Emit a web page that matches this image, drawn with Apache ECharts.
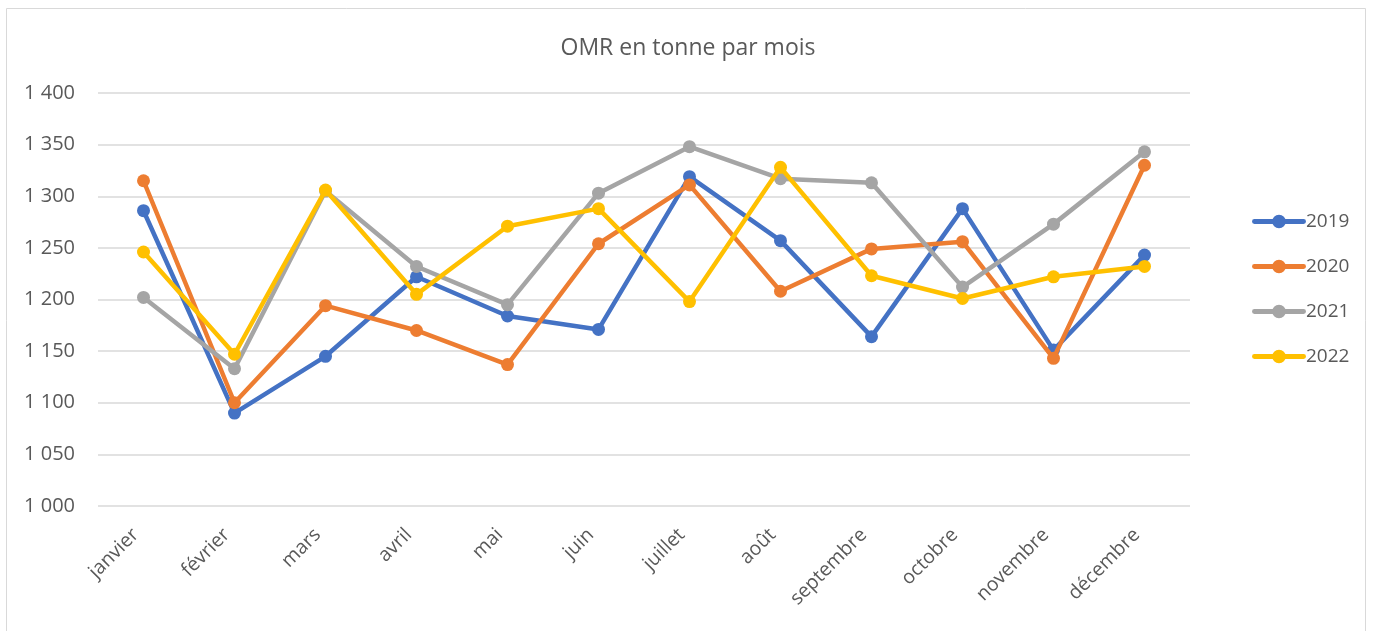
<!DOCTYPE html>
<html>
<head>
<meta charset="utf-8">
<script src="https://cdn.jsdelivr.net/npm/echarts@6/dist/echarts.min.js"></script>
<style>html,body{margin:0;padding:0;background:#fff}#c{width:1376px;height:631px}</style>
</head>
<body>
<div id="c"></div>
<script>
const months = ['janvier','février','mars','avril','mai','juin','juillet','août','septembre','octobre','novembre','décembre'];
const s2019 = [1286,1090,1145,1222,1184,1171,1319,1257,1164,1288,1151,1243];
const s2020 = [1315,1100,1194,1170,1137,1254,1311,1208,1249,1256,1143,1330];
const s2021 = [1202,1133,1305,1232,1195,1303,1348,1317,1313,1212,1273,1343];
const s2022 = [1246,1147,1306,1205,1271,1288,1198,1328,1223,1201,1222,1232];
const seriesNames = ['2019','2020','2021','2022'];
const colors = ['#4472C4','#ED7D31','#A5A5A5','#FFC000'];
const FONT = 'Open Sans';
const legendIcon = 'path://M2,4.5 L52,4.5 A2.5,2.5 0 0 1 52,9.5 L2,9.5 A2.5,2.5 0 0 1 2,4.5 Z M27,0 A7,7 0 0 1 27,14 A7,7 0 0 1 27,0 Z';
const chart = echarts.init(document.getElementById('c'));
const data = [s2019,s2020,s2021,s2022];
chart.setOption({
  animation:false,
  color: colors,
  textStyle:{fontFamily:FONT},
  graphic:[{type:'rect',shape:{x:6.5,y:8.5,width:1359,height:640},style:{fill:'none',stroke:'#D9D9D9',lineWidth:1}}],
  title:{text:'OMR en tonne par mois',left:683,textAlign:'center',top:32,textStyle:{fontFamily:FONT,fontSize:23,fontWeight:'normal',color:'#595959'}},
  legend:{orient:'vertical',left:1247,top:207,itemWidth:54,itemHeight:14,itemGap:26,
    textStyle:{fontFamily:FONT,fontSize:19,color:'#595959',padding:[0,0,0,-5]},
    data:seriesNames.map(n=>({name:n,icon:legendIcon}))},
  grid:{left:98,right:186,top:93,bottom:125,containLabel:false},
  xAxis:{type:'category',data:months,boundaryGap:true,
    axisLine:{show:false},axisTick:{show:false},
    axisLabel:{rotate:45,fontFamily:FONT,fontSize:19.5,color:'#595959',margin:18,padding:[0,11,0,0],interval:0}},
  yAxis:{type:'value',min:1000,max:1400,interval:50,
    axisLine:{show:false},axisTick:{show:false},
    splitLine:{lineStyle:{color:'#D9D9D9',width:1.5}},
    axisLabel:{fontFamily:FONT,fontSize:20,color:'#595959',margin:23,
      formatter:v=>{const s=String(v);return s.length>3?s.slice(0,s.length-3)+' '+s.slice(-3):s;}}},
  series: data.map((d,i)=>({name:seriesNames[i],type:'line',data:d,symbol:'circle',symbolSize:13,
    lineStyle:{width:4.5,color:colors[i]},itemStyle:{color:colors[i]},z:2+i}))
});
</script>
</body>
</html>
